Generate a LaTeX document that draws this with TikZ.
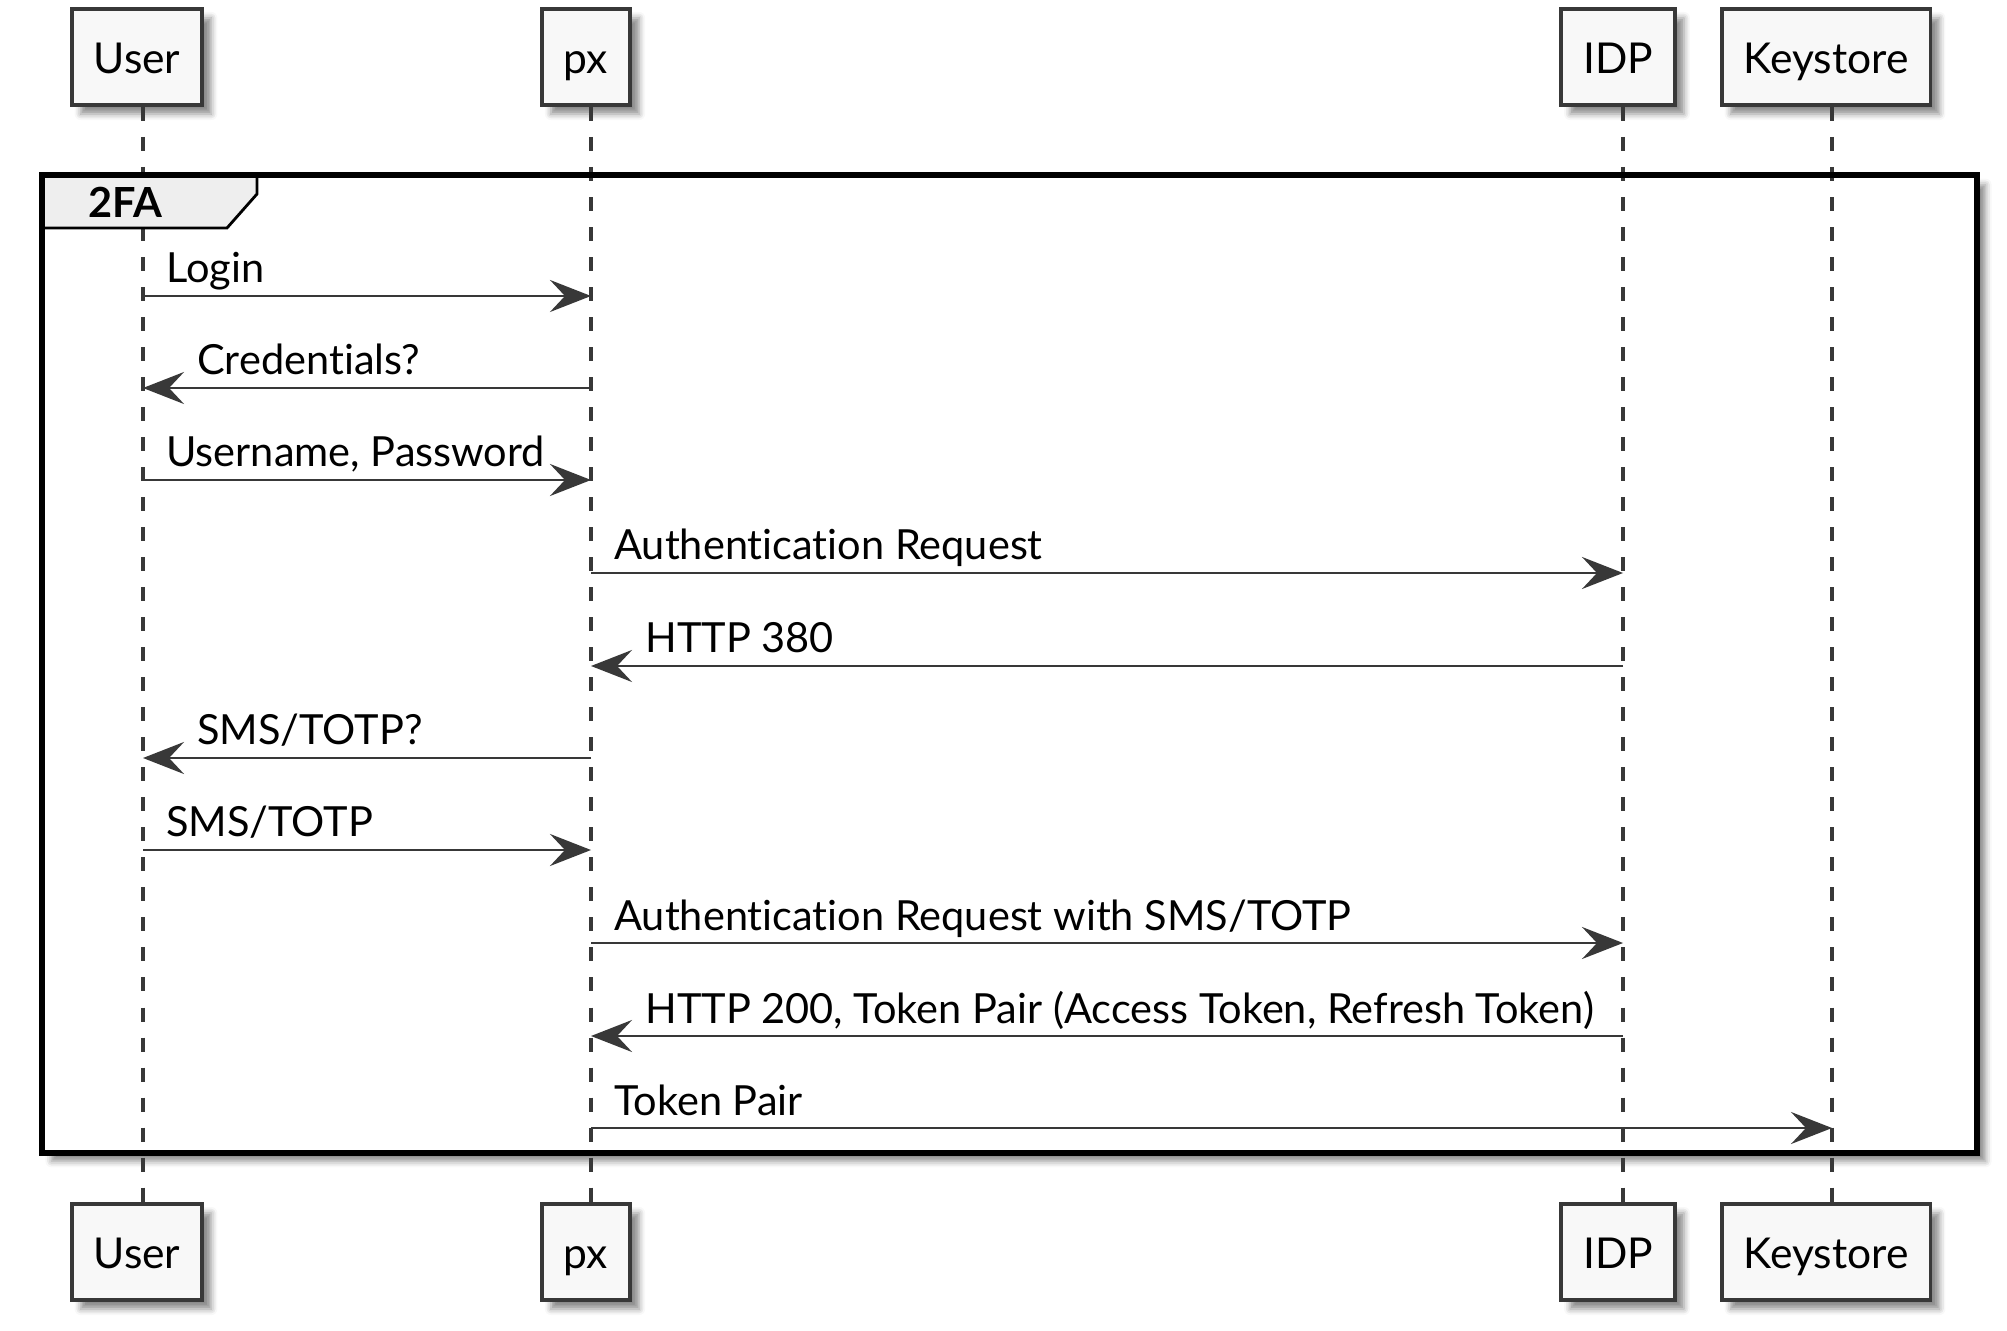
\documentclass[tikz,border=0pt]{standalone}
\usepackage{fontspec}
\setmainfont{Lato}[Ligatures=NoCommon]
\usetikzlibrary{arrows.meta}
\usetikzlibrary{shadows.blur}

\definecolor{linegray}{HTML}{383838}
\definecolor{boxfill}{HTML}{F8F8F8}
\definecolor{tabfill}{HTML}{EEEEEE}

\begin{document}
\begin{tikzpicture}[x=0.01cm, y=-0.01cm,
            actor node/.style={draw=linegray, fill=boxfill, line width=1.1pt, inner xsep=0.22cm, inner ysep=0pt, minimum height=0.96cm, text height=9.5pt, text depth=0pt, font=\fontsize{12.1}{14}\selectfont, blur shadow={shadow xshift=0.09cm, shadow yshift=-0.09cm, shadow blur radius=0.06cm, shadow opacity=45}},
            frame node/.style={fill=white, inner sep=0pt, blur shadow={shadow xshift=0.09cm, shadow yshift=-0.09cm, shadow blur radius=0.06cm, shadow opacity=45}},
            frame line/.style={draw=black, line width=1.7pt},
            tab/.style={draw=black, fill=tabfill, line width=0.8pt, line join=miter},
            lifeline/.style={draw=linegray, line width=0.9pt, dash pattern=on 0.14cm off 0.16cm},
            msg/.style={draw=linegray, line width=0.75pt, -{Stealth[length=0.41cm, width=0.32cm, inset=0.15cm]}},
            msg label/.style={font=\fontsize{11.8}{14}\selectfont, inner sep=0pt, anchor=base west},
            ]
            \useasboundingbox (0,0) rectangle (2007,1331);

            \coordinate (user) at (143,0);
            \coordinate (px) at (591,0);
            \coordinate (idp) at (1623,0);
            \coordinate (keys) at (1832,0);
            \foreach \y [count=\i] in {296,388,480,573,666,758,850,943,1036,1128}
                \coordinate (r\i) at (0,\y);

            \node[frame node, minimum width=19.33cm, minimum height=9.76cm] (grp) at (1009.5,664) {};

            \node[actor node] (user top) at (137,57) {User};
            \node[actor node] (px top) at (586,57) {px};
            \node[actor node] (idp top) at (1618,57) {IDP};
            \node[actor node] (keys top) at (1826,57) {Keystore};
            \node[actor node] (user bottom) at (137,1252) {User};
            \node[actor node] (px bottom) at (586,1252) {px};
            \node[actor node] (idp bottom) at (1618,1252) {IDP};
            \node[actor node] (keys bottom) at (1826,1252) {Keystore};

            \draw[lifeline] (user |- user top.south) -- (user |- user bottom.north);
            \draw[lifeline] (px |- px top.south) -- (px |- px bottom.north);
            \draw[lifeline] (idp |- idp top.south) -- (idp |- idp bottom.north);
            \draw[lifeline] (keys |- keys top.south) -- (keys |- keys bottom.north);

            \draw[tab] (grp.north west) -- (257,176) -- (257,194) -- (227,228) -- (grp.west |- 0,228) -- cycle;
            \node[font=\fontsize{11.8}{14}\selectfont\bfseries, anchor=base, inner sep=0pt] (grp title) at (125,218) {2FA};
            \draw[frame line] (grp.north west) rectangle (grp.south east);

            \draw[msg] (user |- r1) -- (px |- r1) node[msg label, pos=0, xshift=0.22cm, yshift=0.13cm] (m1) {Login};
            \draw[msg] (px |- r2) -- (user |- r2) node[msg label, pos=1, xshift=0.53cm, yshift=0.13cm] (m2) {Credentials?};
            \draw[msg] (user |- r3) -- (px |- r3) node[msg label, pos=0, xshift=0.22cm, yshift=0.13cm] (m3) {Username, Password};
            \draw[msg] (px |- r4) -- (idp |- r4) node[msg label, pos=0, xshift=0.22cm, yshift=0.13cm] (m4) {Authentication Request};
            \draw[msg] (idp |- r5) -- (px |- r5) node[msg label, pos=1, xshift=0.53cm, yshift=0.13cm] (m5) {HTTP 380};
            \draw[msg] (px |- r6) -- (user |- r6) node[msg label, pos=1, xshift=0.53cm, yshift=0.13cm] (m6) {SMS/TOTP?};
            \draw[msg] (user |- r7) -- (px |- r7) node[msg label, pos=0, xshift=0.22cm, yshift=0.13cm] (m7) {SMS/TOTP};
            \draw[msg] (px |- r8) -- (idp |- r8) node[msg label, pos=0, xshift=0.22cm, yshift=0.13cm] (m8) {Authentication Request with SMS/TOTP};
            \draw[msg] (idp |- r9) -- (px |- r9) node[msg label, pos=1, xshift=0.53cm, yshift=0.13cm] (m9) {HTTP 200, Token Pair (Access Token, Refresh Token)};
            \draw[msg] (px |- r10) -- (keys |- r10) node[msg label, pos=0, xshift=0.22cm, yshift=0.13cm] (m10) {Token Pair};
        \end{tikzpicture}
\end{document}
